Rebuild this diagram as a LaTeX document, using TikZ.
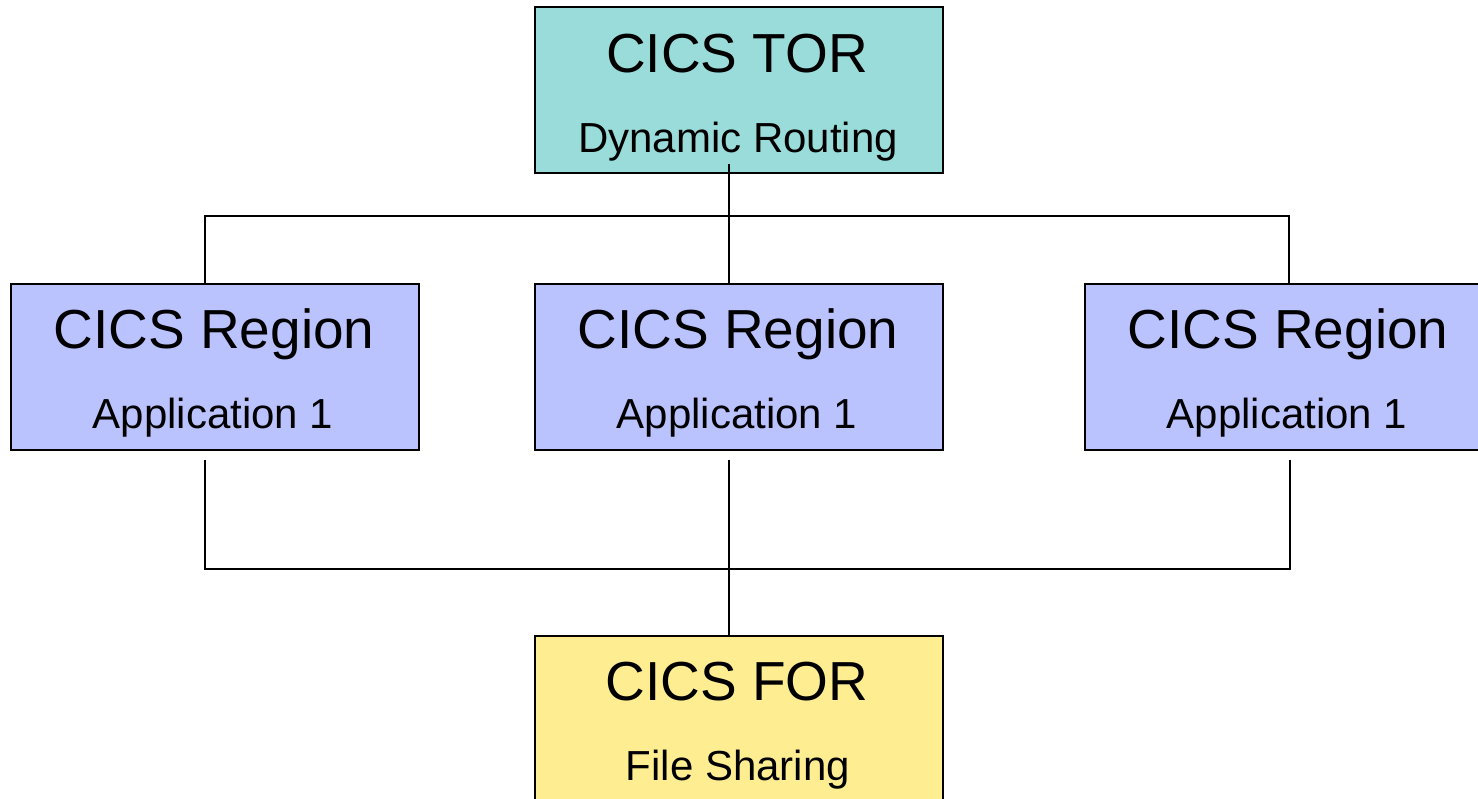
\documentclass[tikz,border=0pt]{standalone}
\usepackage{fontspec}
\setmainfont{Liberation Sans}
\definecolor{torfill}{RGB}{153,220,218}
\definecolor{regfill}{RGB}{187,195,255}
\definecolor{forfill}{RGB}{255,238,145}
\tikzset{
  box/.style={draw=black, line width=1.6pt, minimum width=408pt, minimum height=166pt, inner sep=0pt, anchor=north west},
  bigtxt/.style={font=\fontsize{55}{66}\selectfont, anchor=base, inner sep=0pt},
  smalltxt/.style={font=\fontsize{42}{50}\selectfont, anchor=base, inner sep=0pt},
  conn/.style={draw=black, line width=1.6pt}
}
\begin{document}
\begin{tikzpicture}[x=1pt,y=-1pt]
\useasboundingbox (0,0) rectangle (1478,798);
\clip (0,0) rectangle (1478,798);
% boxes
\node[box, fill=torfill] (tor) at (534,6) {};
\node[box, fill=regfill] (r1) at (10,283) {};
\node[box, fill=regfill] (r2) at (534,283) {};
\node[box, fill=regfill] (r3) at (1084,283) {};
\node[box, fill=forfill] (for) at (534,635) {};
% texts
\node[bigtxt] (torA) at (737,72) {CICS TOR};
\node[smalltxt] (torB) at (738,152) {Dynamic Routing};
\node[bigtxt] (r1A) at (214,348) {CICS Region};
\node[smalltxt] (r1B) at (213,428) {Application 1};
\node[bigtxt] (r2A) at (738,348) {CICS Region};
\node[smalltxt] (r2B) at (737,428) {Application 1};
\node[bigtxt] (r3A) at (1288,348) {CICS Region};
\node[smalltxt] (r3B) at (1287,428) {Application 1};
\node[bigtxt] (forA) at (737,700) {CICS FOR};
\node[smalltxt] (forB) at (738,780) {File Sharing};
% junction coordinates
\coordinate (jt) at (729,216);
\coordinate (tl) at (205,216);
\coordinate (tr) at (1289,216);
\coordinate (jb) at (729,569);
\coordinate (bl) at (205,569);
\coordinate (br) at (1290,569);
% connectors
\draw[conn] ([yshift=10pt]tor.south -| jt) -- (r2.north -| jt);
\draw[conn] (r1.north -| tl) -- (tl) -- (tr) -- (r3.north -| tr);
\draw[conn] ([yshift=-9pt]r1.south -| bl) -- (bl) -- (br) -- ([yshift=-9pt]r3.south -| br);
\draw[conn] ([yshift=-9pt]r2.south -| jb) -- (for.north -| jb);
\end{tikzpicture}
\end{document}
